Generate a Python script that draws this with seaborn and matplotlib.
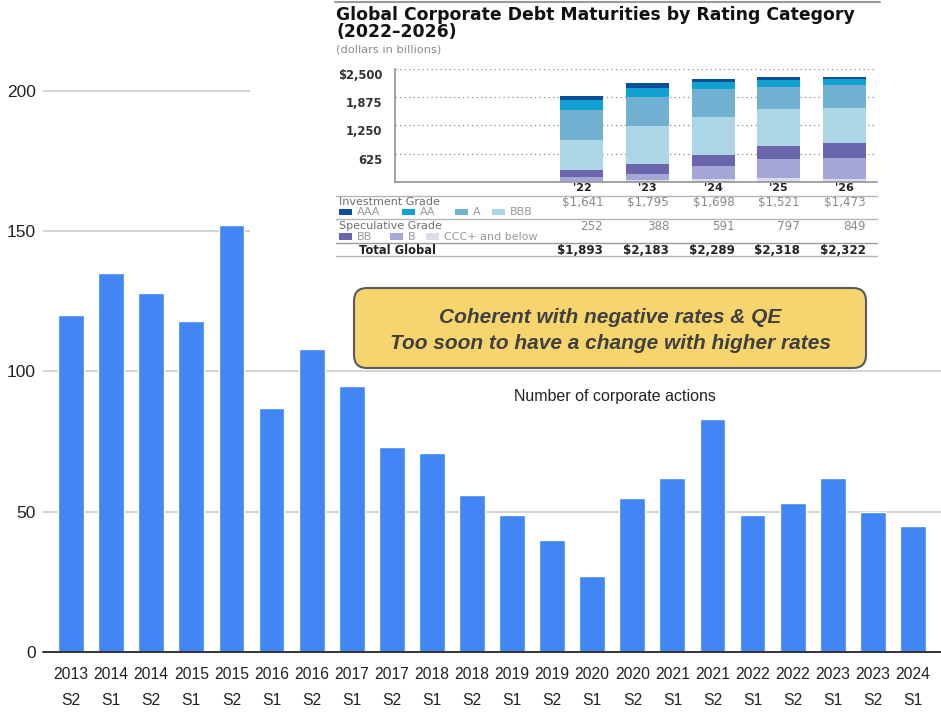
import matplotlib
matplotlib.use("Agg")
import matplotlib.pyplot as plt
import matplotlib.transforms as mtransforms
from matplotlib.patches import FancyBboxPatch, Rectangle
from matplotlib.lines import Line2D
import seaborn as sns
import pandas as pd

# ---- main series: number of corporate actions per half-year ----
periods = ["2013\nS2", "2014\nS1", "2014\nS2", "2015\nS1", "2015\nS2", "2016\nS1",
           "2016\nS2", "2017\nS1", "2017\nS2", "2018\nS1", "2018\nS2", "2019\nS1",
           "2019\nS2", "2020\nS1", "2020\nS2", "2021\nS1", "2021\nS2", "2022\nS1",
           "2022\nS2", "2023\nS1", "2023\nS2", "2024\nS1"]
actions = [120, 135, 128, 118, 152, 87, 108, 95, 73, 71, 56, 49,
           40, 27, 55, 62, 83, 49, 53, 62, 50, 45]
action_ticks = [0, 50, 100, 150, 200]

# ---- inset: global corporate debt maturities by rating ($bn) ----
years = ["'22", "'23", "'24", "'25", "'26"]
aaa = [81, 97, 70, 69, 51]
aa = [222, 207, 163, 148, 127]
a_rated = [658, 646, 622, 497, 503]
bbb = [680, 845, 843, 807, 792]
bb = [140, 212, 244, 302, 326]
b_rated = [97, 134, 288, 407, 457]
ccc = [15, 42, 59, 88, 66]
inv_grade = [1641, 1795, 1698, 1521, 1473]
spec_grade = [252, 388, 591, 797, 849]
total_global = [1893, 2183, 2289, 2318, 2322]
debt_ticks = [625, 1250, 1875, 2500]
debt_tick_labels = ["625", "1,250", "1,875", "$2,500"]

W, H = 941, 719
sns.set_theme(style="white")
plt.rcParams["font.family"] = ["Liberation Sans", "DejaVu Sans"]

fig = plt.figure(figsize=(W / 100, H / 100), dpi=100)
fig.patch.set_facecolor("white")


def rect(x0, y0, x1, y1):
    """Pixel box (top-left origin) -> figure fraction [l, b, w, h]."""
    return [x0 / W, 1 - y1 / H, (x1 - x0) / W, (y1 - y0) / H]


def fx(x):
    return x / W


def fy(y):
    return 1 - y / H


# ---------------- main bar chart ----------------
ax = fig.add_axes(rect(43, 80, 941, 652.3), zorder=0)
df = pd.DataFrame({"period": periods, "actions": actions})
sns.barplot(data=df, x="period", y="actions", color="#4285f4", saturation=1,
            width=0.644, ax=ax, zorder=2)
ax.set_xlim(-0.70, 21.70)
ax.set_ylim(0, 203.8)
ax.set_yticks(action_ticks)
ax.yaxis.grid(True, color="#cccccc", lw=1.2)
ax.set_axisbelow(True)
for s in ax.spines.values():
    s.set_visible(False)
ax.axhline(0, color="#333333", lw=1.4, zorder=3, clip_on=False)
ax.set_xlabel("")
ax.set_ylabel("")
ax.tick_params(axis="y", length=0, pad=5, labelsize=12.5, labelcolor="#222222")
ax.tick_params(axis="x", length=0, pad=10.5, labelsize=11.3, labelcolor="#222222")
for lbl in ax.get_xticklabels():
    lbl.set_linespacing(1.95)

fig.text(fx(614.5), fy(401.5), "Number of corporate actions", ha="center", va="baseline",
         fontsize=11.5, color="#222222", zorder=5)

# yellow call-out
box = FancyBboxPatch((354, H - 368), 512, 80, boxstyle="round,pad=0,rounding_size=13",
                     transform=mtransforms.IdentityTransform(), facecolor="#f6d46e",
                     edgecolor="#5a5a5a", lw=1.5, zorder=4)
fig.add_artist(box)
for txt, yb in [("Coherent with negative rates & QE", 322.7),
                ("Too soon to have a change with higher rates", 349.3)]:
    fig.text(fx(610.5), fy(yb), txt, ha="center", va="baseline", fontsize=15,
             fontweight="bold", fontstyle="italic", color="#404040", zorder=5)

# ---------------- inset panel ----------------
fig.add_artist(Rectangle((fx(250), fy(260)), fx(941) - fx(250), fy(0) - fy(260),
                         transform=fig.transFigure, facecolor="white",
                         edgecolor="none", zorder=1))
inset_font = ["DejaVu Sans"]
fig.add_artist(Line2D([fx(335), fx(880)], [fy(1.5), fy(1.5)], color="#9a9a9a",
                      lw=1.5, zorder=3))
# two-line title; the baseline given is that of the last line
fig.text(fx(336), fy(37),
         "Global Corporate Debt Maturities by Rating Category\n(2022\u20132026)",
         ha="left", va="baseline", linespacing=0.9, fontsize=12.4, fontweight="bold",
         color="#111111", family=inset_font, zorder=5)
fig.text(fx(336), fy(50), "(dollars in billions)", ha="left", va="center", fontsize=8.2,
         color="#8a8a8a", family=inset_font, zorder=5)

ax2 = fig.add_axes(rect(395, 69, 877, 181.7), zorder=2)
ax2.patch.set_alpha(0)
layers = [(ccc, "#dcdcef"), (b_rated, "#a6a6d6"), (bb, "#6966ae"), (bbb, "#acd5e6"),
          (a_rated, "#72b0d2"), (aa, "#12a2d2"), (aaa, "#0c4e9a")]
x_idx = list(range(len(years)))
bottom = [0] * len(years)
bar_w = 0.655
for vals, col in layers:
    ax2.bar(x_idx, vals, bottom=bottom, width=bar_w, color=col, edgecolor="none", zorder=2)
    bottom = [b0 + v for b0, v in zip(bottom, vals)]
ax2.set_xlim(-2.85, 4.5)
ax2.set_ylim(0, 2500)
ax2.set_yticks(debt_ticks, debt_tick_labels)
ax2.set_xticks(x_idx, years)
ax2.yaxis.grid(True, color="#8c8c8c", lw=0.9, ls=(0, (1, 2.6)))
ax2.set_axisbelow(True)
for side in ["top", "right"]:
    ax2.spines[side].set_visible(False)
for side in ["left", "bottom"]:
    ax2.spines[side].set_color("#8a8a8a")
    ax2.spines[side].set_linewidth(1.1)
ax2.tick_params(axis="y", length=0, pad=9, labelsize=8.4, labelcolor="#333333")
ax2.tick_params(axis="x", length=0, pad=1.2, labelsize=8, labelcolor="#222222")
for lbl in ax2.get_yticklabels():
    lbl.set_fontweight("bold")
    lbl.set_family(inset_font)
    lbl.set_va("top")
for lbl in ax2.get_xticklabels():
    lbl.set_fontweight("bold")
    lbl.set_family(inset_font)

# table beneath the inset chart
for yl, col in [(195.8, "#b5b5b5"), (219.3, "#b5b5b5"), (243.3, "#9a9a9a"), (256, "#b5b5b5")]:
    fig.add_artist(Line2D([fx(336), fx(877)], [fy(yl), fy(yl)], color=col, lw=1.0, zorder=3))

col_tr = mtransforms.blended_transform_factory(ax2.transData, fig.transFigure)
right_edges = [i + bar_w / 2 for i in x_idx]


def money(v, dollar=True):
    s = f"{v:,}"
    return "$" + s if dollar else s


row_ig, row_sg, row_tot = 202.4, 226.3, 250
fig.text(fx(339), fy(row_ig), "Investment Grade", ha="left", va="center", fontsize=8,
         color="#6d6d6d", family=inset_font, zorder=5)
fig.text(fx(339), fy(row_sg), "Speculative Grade", ha="left", va="center", fontsize=8,
         color="#6d6d6d", family=inset_font, zorder=5)
fig.text(fx(359), fy(row_tot), "Total Global", ha="left", va="center", fontsize=8.3,
         fontweight="bold", color="#222222", family=inset_font, zorder=5)
for xr, ig, sg, tg in zip(right_edges, inv_grade, spec_grade, total_global):
    fig.text(xr, fy(row_ig), money(ig), transform=col_tr, ha="right", va="center",
             fontsize=8.6, color="#8a8a8a", family=inset_font, zorder=5)
    fig.text(xr, fy(row_sg), money(sg, False), transform=col_tr, ha="right", va="center",
             fontsize=8.6, color="#8a8a8a", family=inset_font, zorder=5)
    fig.text(xr, fy(row_tot), money(tg), transform=col_tr, ha="right", va="center",
             fontsize=8.6, fontweight="bold", color="#222222", family=inset_font, zorder=5)

legend_rows = [
    (212, [("AAA", "#0c4e9a", 339), ("AA", "#12a2d2", 402), ("A", "#72b0d2", 455),
           ("BBB", "#acd5e6", 492)]),
    (236.7, [("BB", "#6966ae", 339), ("B", "#a6a6d6", 390), ("CCC+ and below", "#dcdcef", 426)]),
]
for yc, entries in legend_rows:
    for name, col, x0 in entries:
        fig.add_artist(Rectangle((fx(x0), fy(yc + 3.3)), fx(13), fy(0) - fy(6.6),
                                 transform=fig.transFigure, facecolor=col,
                                 edgecolor="none", zorder=4))
        fig.text(fx(x0 + 18), fy(yc), name, ha="left", va="center", fontsize=8,
                 color="#9a9a9a", family=inset_font, zorder=5)

fig.savefig("out.png", dpi=100, facecolor="white")
